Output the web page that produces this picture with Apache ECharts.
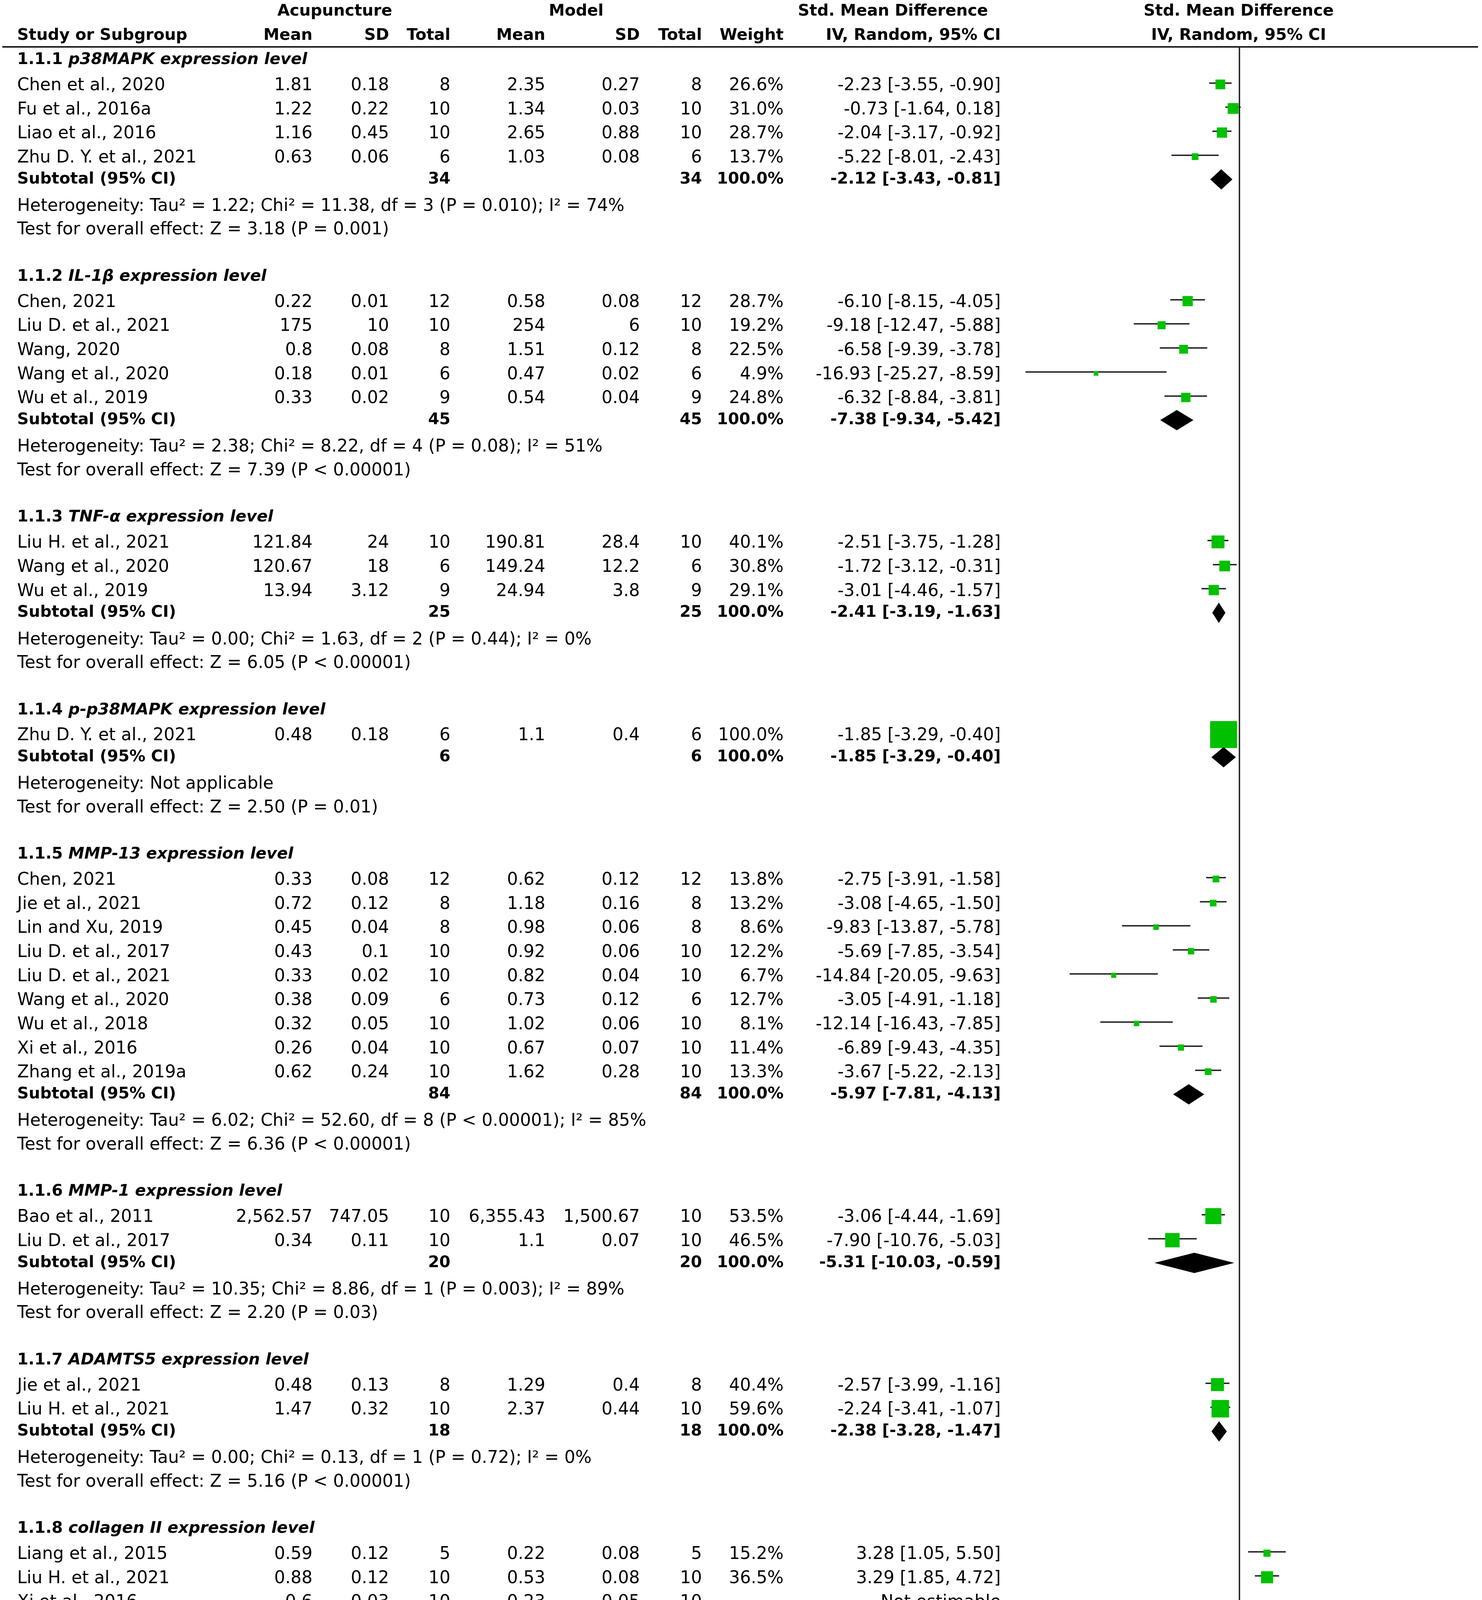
<!DOCTYPE html>
<html>
<head>
<meta charset="utf-8">
<script src="https://cdn.jsdelivr.net/npm/echarts@6/dist/echarts.min.js"></script>
<style>html,body{margin:0;padding:0;background:#fff}#chart{width:3794px;height:5271px}</style>
</head>
<body>
<div id="chart"></div>
<script>
// ---------------- DATA ----------------
const groupCodes = ['1.1.1','1.1.2','1.1.3','1.1.4','1.1.5','1.1.6','1.1.7','1.1.8','1.1.9'];
const groupNames = ['p38MAPK expression level','IL-1β expression level','TNF-α expression level','p-p38MAPK expression level','MMP-13 expression level','MMP-1 expression level','ADAMTS5 expression level','collagen II expression level','aggrecan expression level'];
const studyNames = [
  ['Chen et al., 2020','Fu et al., 2016a','Liao et al., 2016','Zhu D. Y. et al., 2021'],
  ['Chen, 2021','Liu D. et al., 2021','Wang, 2020','Wang et al., 2020','Wu et al., 2019'],
  ['Liu H. et al., 2021','Wang et al., 2020','Wu et al., 2019'],
  ['Zhu D. Y. et al., 2021'],
  ['Chen, 2021','Jie et al., 2021','Lin and Xu, 2019','Liu D. et al., 2017','Liu D. et al., 2021','Wang et al., 2020','Wu et al., 2018','Xi et al., 2016','Zhang et al., 2019a'],
  ['Bao et al., 2011','Liu D. et al., 2017'],
  ['Jie et al., 2021','Liu H. et al., 2021'],
  ['Liang et al., 2015','Liu H. et al., 2021','Xi et al., 2016','Yu, 2016','Zhu D. Y. et al., 2021'],
  ['Liang et al., 2015','Liu H. et al., 2021','Liu N. G. et al., 2018','Ma et al., 2017','Yu, 2016']
];
const acuMean = [
  ['1.81','1.22','1.16','0.63'],
  ['0.22','175','0.8','0.18','0.33'],
  ['121.84','120.67','13.94'],
  ['0.48'],
  ['0.33','0.72','0.45','0.43','0.33','0.38','0.32','0.26','0.62'],
  ['2,562.57','0.34'],
  ['0.48','1.47'],
  ['0.59','0.88','0.6','0.8','0.64'],
  ['0.85','0.97','1.13','1.11','1.11']
];
const acuSD = [
  ['0.18','0.22','0.45','0.06'],
  ['0.01','10','0.08','0.01','0.02'],
  ['24','18','3.12'],
  ['0.18'],
  ['0.08','0.12','0.04','0.1','0.02','0.09','0.05','0.04','0.24'],
  ['747.05','0.11'],
  ['0.13','0.32'],
  ['0.12','0.12','0.03','0.15','0.09'],
  ['0.16','0.24','0.3','0.16','0.16']
];
const acuN = [[8,10,10,6],[12,10,8,6,9],[10,6,9],[6],[12,8,8,10,10,6,10,10,10],[10,10],[8,10],[5,10,10,6,6],[6,10,6,6,6]];
const modMean = [
  ['2.35','1.34','2.65','1.03'],
  ['0.58','254','1.51','0.47','0.54'],
  ['190.81','149.24','24.94'],
  ['1.1'],
  ['0.62','1.18','0.98','0.92','0.82','0.73','1.02','0.67','1.62'],
  ['6,355.43','1.1'],
  ['1.29','2.37'],
  ['0.22','0.53','0.23','0.44','0.32'],
  ['0.36','0.69','0.57','0.59','0.59']
];
const modSD = [
  ['0.27','0.03','0.88','0.08'],
  ['0.08','6','0.12','0.02','0.04'],
  ['28.4','12.2','3.8'],
  ['0.4'],
  ['0.12','0.16','0.06','0.06','0.04','0.12','0.06','0.07','0.28'],
  ['1,500.67','0.07'],
  ['0.4','0.44'],
  ['0.08','0.08','0.05','0.17','0.06'],
  ['0.19','0.16','0.22','0.11','0.11']
];
const modN = [[8,10,10,6],[12,10,8,6,9],[10,6,9],[6],[12,8,8,10,10,6,10,10,10],[10,10],[8,10],[5,10,10,6,6],[6,10,6,6,6]];
const weights = [[26.6,31.0,28.7,13.7],[28.7,19.2,22.5,4.9,24.8],[40.1,30.8,29.1],[100.0],[13.8,13.2,8.6,12.2,6.7,12.7,8.1,11.4,13.3],[53.5,46.5],[40.4,59.6],[15.2,36.5,null,32.7,15.6],[18.2,32.6,21.5,13.9,13.9]];
const smd = [[-2.23,-0.73,-2.04,-5.22],[-6.10,-9.18,-6.58,-16.93,-6.32],[-2.51,-1.72,-3.01],[-1.85],[-2.75,-3.08,-9.83,-5.69,-14.84,-3.05,-12.14,-6.89,-3.67],[-3.06,-7.90],[-2.57,-2.24],[3.28,3.29,null,2.07,3.86],[2.58,1.31,1.97,3.50,3.50]];
const ciLow = [[-3.55,-1.64,-3.17,-8.01],[-8.15,-12.47,-9.39,-25.27,-8.84],[-3.75,-3.12,-4.46],[-3.29],[-3.91,-4.65,-13.87,-7.85,-20.05,-4.91,-16.43,-9.43,-5.22],[-4.44,-10.76],[-3.99,-3.41],[1.05,1.85,null,0.55,1.66],[0.88,0.33,0.48,1.45,1.45]];
const ciHigh = [[-0.90,0.18,-0.92,-2.43],[-4.05,-5.88,-3.78,-8.59,-3.81],[-1.28,-0.31,-1.57],[-0.40],[-1.58,-1.50,-5.78,-3.54,-9.63,-1.18,-7.85,-4.35,-2.13],[-1.69,-5.03],[-1.16,-1.07],[5.50,4.72,null,3.59,6.06],[4.27,2.30,3.45,5.54,5.54]];
const subAcuN = [34,45,25,6,84,20,18,27,34];
const subModN = [34,45,25,6,84,20,18,27,34];
const subWeight = [100.0,100.0,100.0,100.0,100.0,100.0,100.0,100.0,100.0];
const subSmd = [-2.12,-7.38,-2.41,-1.85,-5.97,-5.31,-2.38,2.98,2.29];
const subLow = [-3.43,-9.34,-3.19,-3.29,-7.81,-10.03,-3.28,2.11,1.41];
const subHigh = [-0.81,-5.42,-1.63,-0.40,-4.13,-0.59,-1.47,3.85,3.17];
const heterogeneity = [
  'Heterogeneity: Tau² = 1.22; Chi² = 11.38, df = 3 (P = 0.010); I² = 74%',
  'Heterogeneity: Tau² = 2.38; Chi² = 8.22, df = 4 (P = 0.08); I² = 51%',
  'Heterogeneity: Tau² = 0.00; Chi² = 1.63, df = 2 (P = 0.44); I² = 0%',
  'Heterogeneity: Not applicable',
  'Heterogeneity: Tau² = 6.02; Chi² = 52.60, df = 8 (P < 0.00001); I² = 85%',
  'Heterogeneity: Tau² = 10.35; Chi² = 8.86, df = 1 (P = 0.003); I² = 89%',
  'Heterogeneity: Tau² = 0.00; Chi² = 0.13, df = 1 (P = 0.72); I² = 0%',
  'Heterogeneity: Tau² = 0.00; Chi² = 2.23, df = 3 (P = 0.53); I² = 0%',
  'Heterogeneity: Tau² = 0.37; Chi² = 6.33, df = 4 (P = 0.18); I² = 37%'
];
const overallEffect = [
  'Test for overall effect: Z = 3.18 (P = 0.001)',
  'Test for overall effect: Z = 7.39 (P < 0.00001)',
  'Test for overall effect: Z = 6.05 (P < 0.00001)',
  'Test for overall effect: Z = 2.50 (P = 0.01)',
  'Test for overall effect: Z = 6.36 (P < 0.00001)',
  'Test for overall effect: Z = 2.20 (P = 0.03)',
  'Test for overall effect: Z = 5.16 (P < 0.00001)',
  'Test for overall effect: Z = 6.73 (P < 0.00001)',
  'Test for overall effect: Z = 5.09 (P < 0.00001)'
];
const xTicks = [-20, -10, 0, 10, 20];
const axisLeftLabel = 'Acupuncture';
const axisRightLabel = 'Model';

// ---------------- LAYOUT ----------------
const FONT = '"DejaVu Sans", Verdana, sans-serif';
const FS = 44, FS_B = 41, FS_TICK = 46;
const ROW0 = 152, PITCH = 61.64, GRID_TOP = 120, GRID_BOTTOM = 5142;
const PLOT_LEFT = 2603, PLOT_RIGHT = 3742, X_MIN = -26.3, X_MAX = 26.3;
const textShift = {heading: 1.6, study: 6, subtotal: -1, het: 6.8, test: 5.5};
const COL = {name: 44, acuMean: 800, acuSD: 996, acuN: 1153, modMean: 1396, modSD: 1638, modN: 1797, weight: 2006, ci: 2562};

// build row list from the arrays
const rows = [];
let r = 0;
groupCodes.forEach((code, gi) => {
  rows.push({type: 'heading', pos: r++, gi});
  studyNames[gi].forEach((n, si) => rows.push({type: 'study', pos: r++, gi, si}));
  rows.push({type: 'subtotal', pos: r++, gi});
  rows.push({type: 'het', pos: r++, gi});
  rows.push({type: 'test', pos: r++, gi});
  r++;
});
const fmt = v => v.toFixed(2);
const ciText = (e, l, h) => fmt(e) + ' [' + fmt(l) + ', ' + fmt(h) + ']';

const tableData = rows.map(rw => [0, rw.pos + textShift[rw.type] / PITCH]);
const studyData = [];
rows.forEach(rw => {
  if (rw.type === 'study' && smd[rw.gi][rw.si] !== null) {
    studyData.push([smd[rw.gi][rw.si], ciLow[rw.gi][rw.si], ciHigh[rw.gi][rw.si], rw.pos, weights[rw.gi][rw.si]]);
  }
});
const diamondData = rows.filter(rw => rw.type === 'subtotal').map(rw => [subSmd[rw.gi], subLow[rw.gi], subHigh[rw.gi], rw.pos]);

function txt(text, x, y, align, bold) {
  return {type: 'text', x: x, y: y, style: {text: text, fontSize: bold ? FS_B : FS, fontWeight: bold ? 'bold' : 'normal', fontFamily: FONT, fill: '#000', align: align, verticalAlign: 'middle'}};
}

function renderTable(params, api) {
  const rw = rows[params.dataIndex];
  const y = api.coord([0, api.value(1)])[1];
  const g = rw.gi, s = rw.si;
  const k = [];
  if (rw.type === 'heading') {
    k.push({type: 'text', x: COL.name, y: y, style: {
      text: '{a|' + groupCodes[g] + ' }{b|' + groupNames[g] + '}',
      rich: {a: {fontSize: FS_B, fontWeight: 'bold', fontFamily: FONT, fill: '#000'},
             b: {fontSize: FS_B, fontWeight: 'bold', fontStyle: 'italic', fontFamily: FONT, fill: '#000'}},
      align: 'left', verticalAlign: 'middle'}});
  } else if (rw.type === 'study') {
    k.push(txt(studyNames[g][s], COL.name, y, 'left', false));
    k.push(txt(acuMean[g][s], COL.acuMean, y, 'right', false));
    k.push(txt(acuSD[g][s], COL.acuSD, y, 'right', false));
    k.push(txt(String(acuN[g][s]), COL.acuN, y, 'right', false));
    k.push(txt(modMean[g][s], COL.modMean, y, 'right', false));
    k.push(txt(modSD[g][s], COL.modSD, y, 'right', false));
    k.push(txt(String(modN[g][s]), COL.modN, y, 'right', false));
    if (weights[g][s] !== null) {
      k.push(txt(weights[g][s].toFixed(1) + '%', COL.weight, y, 'right', false));
      k.push(txt(ciText(smd[g][s], ciLow[g][s], ciHigh[g][s]), COL.ci, y, 'right', false));
    } else {
      k.push(txt('Not estimable', COL.ci, y, 'right', false));
    }
  } else if (rw.type === 'subtotal') {
    k.push(txt('Subtotal (95% CI)', COL.name, y, 'left', true));
    k.push(txt(String(subAcuN[g]), COL.acuN, y, 'right', true));
    k.push(txt(String(subModN[g]), COL.modN, y, 'right', true));
    k.push(txt(subWeight[g].toFixed(1) + '%', COL.weight, y, 'right', true));
    k.push(txt(ciText(subSmd[g], subLow[g], subHigh[g]), COL.ci, y, 'right', true));
  } else if (rw.type === 'het') {
    k.push(txt(heterogeneity[g], COL.name, y, 'left', false));
  } else if (rw.type === 'test') {
    k.push(txt(overallEffect[g], COL.name, y, 'left', false));
  }
  return {type: 'group', children: k};
}

function renderStudy(params, api) {
  const row = api.value(3);
  const c = api.coord([api.value(0), row]);
  const l = api.coord([api.value(1), row]);
  const h = api.coord([api.value(2), row]);
  const side = 9 + 0.6 * api.value(4);
  const ly = c[1] - 1, sy = c[1] + 2.5;
  return {type: 'group', children: [
    {type: 'line', shape: {x1: l[0], y1: ly, x2: h[0], y2: ly}, style: {stroke: '#1c1c1c', lineWidth: 3.5}},
    {type: 'rect', shape: {x: c[0] - side / 2, y: sy - side / 2, width: side, height: side}, style: {fill: '#00c000'}}
  ]};
}

function renderDiamond(params, api) {
  const row = api.value(3);
  const c = api.coord([api.value(0), row]);
  const l = api.coord([api.value(1), row]);
  const h = api.coord([api.value(2), row]);
  const y = c[1] - 1, hh = 26;
  return {type: 'polygon', shape: {points: [[l[0], y], [c[0], y - hh], [h[0], y], [c[0], y + hh]]}, style: {fill: '#000'}};
}

const headTxt = (text, x, y, align) => ({type: 'text', x: x, y: y, style: {text: text, fontSize: FS_B, fontWeight: 'bold', fontFamily: FONT, fill: '#000', align: align, verticalAlign: 'middle'}});

const chart = echarts.init(document.getElementById('chart'), null, {renderer: 'canvas'});
chart.setOption({
  animation: false,
  backgroundColor: '#fff',
  grid: {left: PLOT_LEFT, width: PLOT_RIGHT - PLOT_LEFT, top: GRID_TOP, height: GRID_BOTTOM - GRID_TOP, containLabel: false},
  xAxis: [
    {type: 'value', min: X_MIN, max: X_MAX, position: 'bottom', splitLine: {show: false},
     axisLine: {show: true, onZero: false, lineStyle: {color: '#1c1c1c', width: 4}},
     axisTick: {show: true, customValues: xTicks, length: 16, lineStyle: {color: '#1c1c1c', width: 3}},
     axisLabel: {show: true, customValues: xTicks, fontSize: FS_TICK, fontFamily: FONT, color: '#000', margin: 10}},
    {type: 'value', min: X_MIN, max: X_MAX, position: 'bottom', splitLine: {show: false},
     axisLine: {show: false, onZero: false},
     axisTick: {show: true, inside: true, customValues: xTicks, length: 16, lineStyle: {color: '#1c1c1c', width: 3}},
     axisLabel: {show: false}}
  ],
  yAxis: {type: 'value', inverse: true, min: (GRID_TOP - ROW0) / PITCH, max: (GRID_BOTTOM - ROW0) / PITCH, show: false},
  graphic: [
    headTxt('Acupuncture', 857, 29, 'center'),
    headTxt('Model', 1475, 29, 'center'),
    headTxt('Std. Mean Difference', 2286, 29, 'center'),
    headTxt('Std. Mean Difference', 3171, 29, 'center'),
    headTxt('Study or Subgroup', COL.name, 91.5, 'left'),
    headTxt('Mean', COL.acuMean, 91.5, 'right'),
    headTxt('SD', COL.acuSD, 91.5, 'right'),
    headTxt('Total', COL.acuN, 91.5, 'right'),
    headTxt('Mean', COL.modMean, 91.5, 'right'),
    headTxt('SD', COL.modSD, 91.5, 'right'),
    headTxt('Total', COL.modN, 91.5, 'right'),
    headTxt('Weight', COL.weight, 91.5, 'right'),
    headTxt('IV, Random, 95% CI', COL.ci, 91.5, 'right'),
    headTxt('IV, Random, 95% CI', 3171, 91.5, 'center'),
    {type: 'line', shape: {x1: 6, y1: GRID_TOP, x2: 3784, y2: GRID_TOP}, style: {stroke: '#1c1c1c', lineWidth: 4}},
    {type: 'text', x: 3160, y: 5232, style: {text: axisLeftLabel, fontSize: FS, fontFamily: FONT, fill: '#000', align: 'right', verticalAlign: 'middle'}},
    {type: 'text', x: 3193, y: 5232, style: {text: axisRightLabel, fontSize: FS, fontFamily: FONT, fill: '#000', align: 'left', verticalAlign: 'middle'}}
  ],
  series: [
    {type: 'custom', name: 'table', clip: false, silent: true, data: tableData, renderItem: renderTable},
    {type: 'custom', name: 'studies', clip: false, silent: true, data: studyData, renderItem: renderStudy,
     encode: {x: [0, 1, 2], y: 3},
     markLine: {silent: true, symbol: 'none', label: {show: false}, lineStyle: {color: '#1c1c1c', width: 3.5, type: 'solid'}, data: [{xAxis: 0}]}},
    {type: 'custom', name: 'subtotals', clip: false, silent: true, data: diamondData, renderItem: renderDiamond, encode: {x: [0, 1, 2], y: 3}}
  ]
});
</script>
</body>
</html>
